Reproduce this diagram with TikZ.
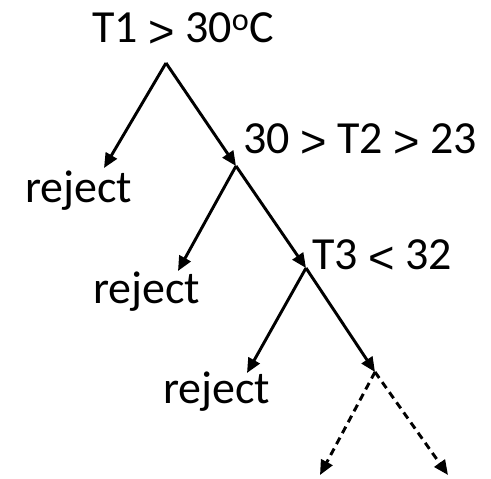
\documentclass[tikz,border=0pt]{standalone}
\usepackage{fontspec}
\setmainfont{Carlito}
\newfontfamily\relfont{Liberation Sans}
\usetikzlibrary{arrows.meta}
% comparison signs with thin, full-size strokes
\newcommand\relgt{\raisebox{-0.1em}{\relfont\fontsize{34}{40}\selectfont >}}
\newcommand\rellt{\raisebox{-0.1em}{\relfont\fontsize{34}{40}\selectfont <}}
\begin{document}
\begin{tikzpicture}[x=0.75pt,y=-0.75pt,
  lbl/.style={anchor=base west, inner sep=0pt, font=\fontsize{34.5}{40}\selectfont},
  branch/.style={line width=2.2pt, -{Triangle[length=11pt,width=9.5pt]}},
  open/.style={branch, dash pattern=on 5.5pt off 3.8pt}]
\useasboundingbox (0,0) rectangle (491,478);

% test labels
\node[lbl] (t1) at (92,43) {T1 \relgt{} 30\textsuperscript{o}C};
\node[lbl] (t2) at (243,153) {30 \relgt{} T2 \relgt{} 23};
\node[lbl] (t3) at (312,269) {T3 \rellt{} 32};
\node[lbl] (r1) at (25,202) {reject};
\node[lbl] (r2) at (93,303) {reject};
\node[lbl] (r3) at (163,403) {reject};

% branching points and arrow ends
\coordinate (a) at (166,63);
\coordinate (b) at (236,166);
\coordinate (c) at (306,268);
\coordinate (d) at (375,372);
\coordinate (ra) at (104,168);
\coordinate (rb) at (178,271);
\coordinate (rc) at (247,373);
\coordinate (dl) at (320,475);
\coordinate (dr) at (448,475);

\draw[branch] (a) -- (ra);
\draw[branch] (a) -- (b);
\draw[branch] (b) -- (rb);
\draw[branch] (b) -- (c);
\draw[branch] (c) -- (rc);
\draw[branch] (c) -- (d);
\draw[open] (d) -- (dl);
\draw[open] (d) -- (dr);
\end{tikzpicture}
\end{document}
